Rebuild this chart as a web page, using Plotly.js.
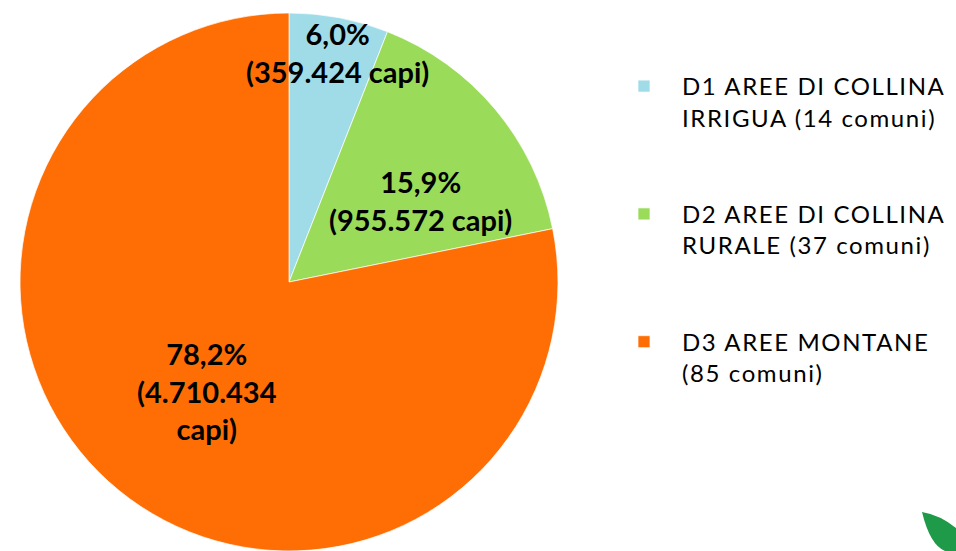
<!DOCTYPE html>
<html>
<head>
<meta charset="utf-8">
<script src="https://cdn.plot.ly/plotly-3.0.1.min.js"></script>
<style>html,body{margin:0;padding:0;background:#fff;}#chart{width:956px;height:551px;}
.legendtext{letter-spacing:1.6px;}</style>
</head>
<body>
<div id="chart"></div>
<script>
// Data
const categories = [
  "D1 AREE DI COLLINA<br>IRRIGUA (14 comuni)",
  "D2 AREE DI COLLINA<br>RURALE (37 comuni)",
  "D3 AREE MONTANE<br>(85 comuni)"
];
const capi = [359424, 955572, 4710434];
const pctLabels = ["6,0%", "15,9%", "78,2%"];
const capiLabels = ["(359.424 capi)", "(955.572 capi)", "(4.710.434<br>capi)"];
const colors = ["#9FDCE8", "#9BDB5A", "#FF6E05"];

const W = 956, H = 551;
const px = (x) => x / W;
const py = (y) => 1 - y / H;

const trace = {
  type: "pie",
  labels: categories.map(c => c + "<br> <br> "),
  values: capi,
  sort: false,
  direction: "clockwise",
  rotation: 0,
  textinfo: "none",
  hoverinfo: "skip",
  marker: { colors: colors, line: { color: "rgba(255,255,255,0.7)", width: 1 } },
  domain: { x: [px(20), px(558)], y: [py(551), py(13)] }
};

// label anchor positions (pixels) – layout only
const labelPos = [[337, 52], [420, 200], [207, 391]];
const annotations = labelPos.map((p, i) => ({
  xref: "paper", yref: "paper",
  x: px(p[0]), y: py(p[1]),
  xanchor: "center", yanchor: "middle",
  text: "<b>" + pctLabels[i] + "<br>" + capiLabels[i] + "</b>",
  showarrow: false,
  font: { family: "Lato, sans-serif", size: 29, color: "#000" }
}));

const layout = {
  width: W, height: H,
  margin: { l: 0, r: 0, t: 0, b: 0 },
  paper_bgcolor: "#fff",
  showlegend: true,
  legend: {
    x: px(606), y: py(64), xanchor: "left", yanchor: "top",
    valign: "top",
    itemwidth: 66,
    font: { family: "Lato, sans-serif", size: 24, color: "#000" },
    bgcolor: "rgba(0,0,0,0)"
  },
  annotations: annotations,
  shapes: [{
    type: "path", xref: "paper", yref: "paper",
    path: "M " + px(922) + "," + py(512) +
          " Q " + px(930) + "," + py(545) + " " + px(945) + "," + py(551) +
          " L " + px(956) + "," + py(551) +
          " L " + px(956) + "," + py(528) +
          " Q " + px(940) + "," + py(515) + " " + px(922) + "," + py(512) + " Z",
    fillcolor: "#1E9A48", line: { width: 0 }
  }]
};

Plotly.newPlot("chart", [trace], layout, { displayModeBar: false, staticPlot: true });
</script>
</body>
</html>
